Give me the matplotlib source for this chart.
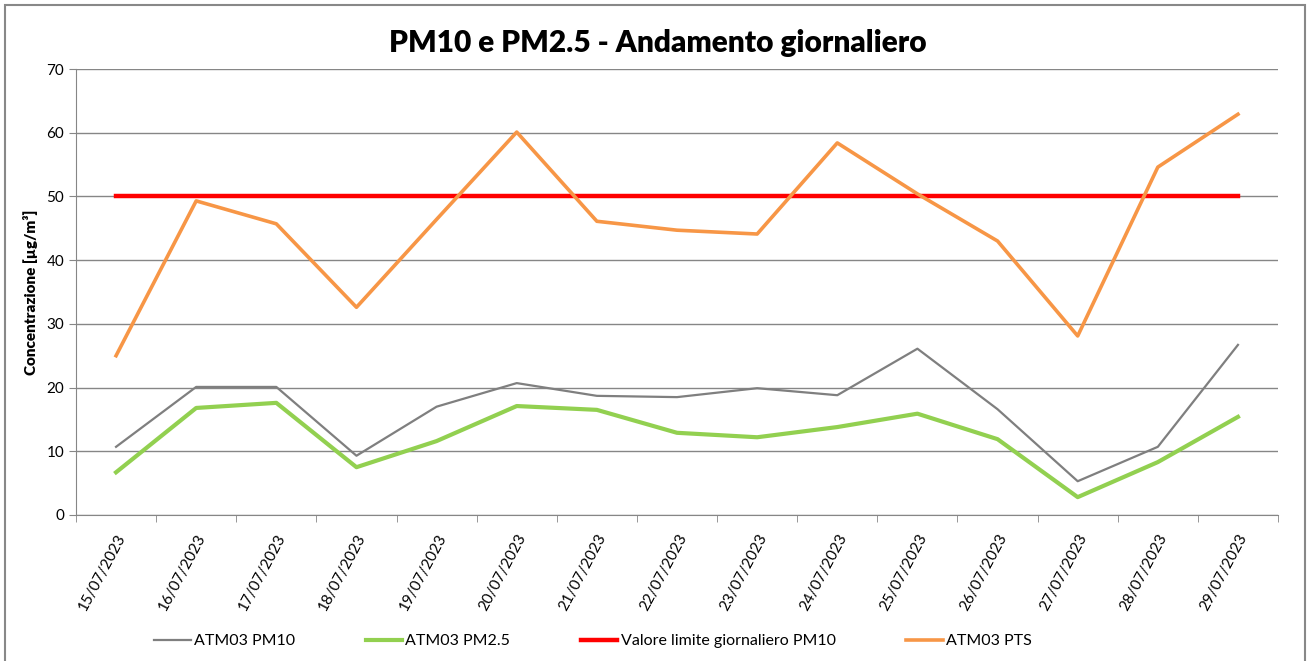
import matplotlib.pyplot as plt
from matplotlib.patches import Rectangle

# Daily data
dates = ['15/07/2023', '16/07/2023', '17/07/2023', '18/07/2023', '19/07/2023',
         '20/07/2023', '21/07/2023', '22/07/2023', '23/07/2023', '24/07/2023',
         '25/07/2023', '26/07/2023', '27/07/2023', '28/07/2023', '29/07/2023']
pm10 = [10.7, 20.1, 20.1, 9.3, 17.0, 20.7, 18.7, 18.5, 19.9, 18.8, 26.1, 16.6, 5.3, 10.7, 26.7]
pm25 = [6.7, 16.8, 17.6, 7.5, 11.6, 17.1, 16.5, 12.9, 12.2, 13.8, 15.9, 11.9, 2.8, 8.3, 15.4]
limit = [50] * 15
pts = [25.0, 49.3, 45.7, 32.6, 46.4, 60.1, 46.1, 44.7, 44.1, 58.4, 50.4, 43.0, 28.1, 54.6, 62.9]

plt.rcParams['font.family'] = ['Lato', 'DejaVu Sans']

fig = plt.figure(figsize=(13.10, 6.61), dpi=100)
ax = fig.add_axes([0.058, 0.2209, 0.9176, 0.6747])

x = list(range(len(dates)))
ax.plot(x, pm10, color='#7f7f7f', lw=1.6, label='ATM03 PM10')
ax.plot(x, pm25, color='#92d050', lw=3, label='ATM03 PM2.5')
ax.plot(x, limit, color='#ff0000', lw=3.2, label='Valore limite giornaliero PM10')
ax.plot(x, pts, color='#f79646', lw=2.6, label='ATM03 PTS')

ax.set_xlim(-0.5, len(dates) - 0.5)
ax.set_ylim(0, 70)
ax.set_yticks(range(0, 71, 10))
ax.set_xticks(x)
ax.set_xticklabels(dates, rotation=62, ha='right', va='top', rotation_mode='anchor', fontsize=11)
ax.set_xticks([i - 0.5 for i in range(len(dates) + 1)], minor=True)
ax.tick_params(axis='x', which='major', length=0, pad=12)
ax.tick_params(axis='x', which='minor', length=5, color='#868686')
ax.tick_params(axis='y', length=5, color='#868686', labelsize=11)

ax.grid(axis='y', color='#868686', lw=1)
ax.set_axisbelow(True)
for s in ['top', 'right']:
    ax.spines[s].set_visible(False)
for s in ['left', 'bottom']:
    ax.spines[s].set_color('#868686')

ax.set_ylabel('Concentrazione [µg/m³]', fontsize=11, fontweight='heavy', labelpad=6)
fig.text(0.502, 0.935, 'PM10 e PM2.5 - Andamento giornaliero', ha='center', va='center',
         fontsize=21.5, fontweight='heavy')

ax.legend(loc='center', bbox_to_anchor=(0.43, -0.283), ncol=4, frameon=False,
          fontsize=11.5, handlelength=2.3, handletextpad=0.2, columnspacing=4.4)

fig.patches.append(Rectangle((5 / 1310, -0.05), 1300 / 1310, 1.05 - 5 / 661,
                             transform=fig.transFigure, fill=False, ec='#888888', lw=1.5))

fig.savefig('out.png', dpi=100)
